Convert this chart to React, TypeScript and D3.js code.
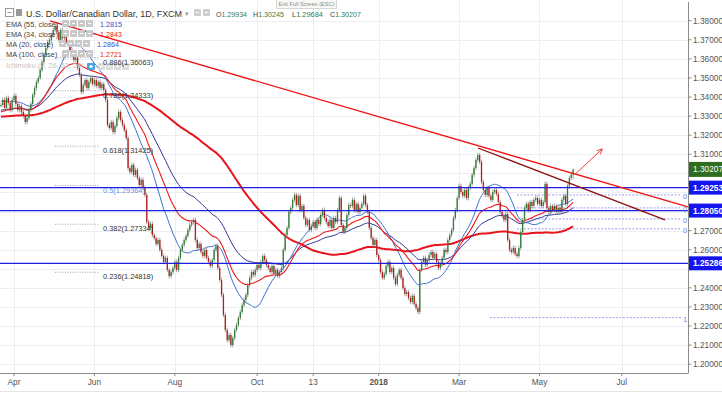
import React from "react";
import * as d3 from "d3";

// ---------- DATA ----------
const START_INDEX = -7; // bar index of first close (0 = first April 2017 session)
const closes = [
  1.3358, 1.3385, 1.3343, 1.3395, 1.3369, 1.3332, 1.3385,
  1.3406, 1.3364, 1.3332, 1.3353, 1.3322, 1.3301, 1.3269, 1.3290, 1.3332, 1.3364,
  1.3411, 1.3447, 1.3479, 1.3500, 1.3542, 1.3584, 1.3620, 1.3657, 1.3688, 1.3699,
  1.3725, 1.3751, 1.3772, 1.3741, 1.3699, 1.3751, 1.3709, 1.3725, 1.3688, 1.3673,
  1.3646, 1.3620, 1.3594, 1.3605, 1.3552, 1.3516, 1.3427, 1.3463, 1.3489, 1.3447,
  1.3479, 1.3500, 1.3468, 1.3489, 1.3458, 1.3479, 1.3447, 1.3468, 1.3437, 1.3385,
  1.3254, 1.3238, 1.3269, 1.3217, 1.3248, 1.3290, 1.3322, 1.3280, 1.3254, 1.3227,
  1.3185, 1.3028, 1.3007, 1.3044, 1.2992, 1.3018, 1.2976, 1.2939, 1.2966, 1.2924,
  1.2887, 1.2745, 1.2714, 1.2735, 1.2677, 1.2661, 1.2630, 1.2651, 1.2599, 1.2567,
  1.2536, 1.2557, 1.2494, 1.2462, 1.2483, 1.2504, 1.2536, 1.2494, 1.2557, 1.2599,
  1.2625, 1.2651, 1.2672, 1.2703, 1.2730, 1.2745, 1.2756, 1.2651, 1.2609, 1.2630,
  1.2588, 1.2567, 1.2599, 1.2557, 1.2536, 1.2515, 1.2546, 1.2599, 1.2620, 1.2504,
  1.2441, 1.2363, 1.2258, 1.2179, 1.2126, 1.2153, 1.2100, 1.2137, 1.2179, 1.2206,
  1.2242, 1.2274, 1.2310, 1.2337, 1.2363, 1.2415, 1.2452, 1.2483, 1.2468, 1.2494,
  1.2520, 1.2504, 1.2536, 1.2567, 1.2546, 1.2520, 1.2504, 1.2483, 1.2515, 1.2473,
  1.2494, 1.2462, 1.2483, 1.2504, 1.2599, 1.2677, 1.2714, 1.2798, 1.2819, 1.2861,
  1.2887, 1.2834, 1.2882, 1.2808, 1.2829, 1.2766, 1.2730, 1.2756, 1.2703, 1.2724,
  1.2745, 1.2714, 1.2756, 1.2735, 1.2782, 1.2808, 1.2766, 1.2745, 1.2724, 1.2756,
  1.2714, 1.2766, 1.2745, 1.2808, 1.2871, 1.2730, 1.2693, 1.2714, 1.2782, 1.2834,
  1.2829, 1.2861, 1.2808, 1.2840, 1.2798, 1.2819, 1.2840, 1.2882, 1.2834, 1.2798,
  1.2714, 1.2661, 1.2625, 1.2651, 1.2572, 1.2546, 1.2483, 1.2452, 1.2473, 1.2515,
  1.2536, 1.2483, 1.2504, 1.2452, 1.2420, 1.2468, 1.2494, 1.2452, 1.2399, 1.2368,
  1.2378, 1.2347, 1.2326, 1.2358, 1.2316, 1.2295, 1.2274, 1.2494, 1.2536, 1.2557,
  1.2520, 1.2546, 1.2572, 1.2588, 1.2557, 1.2578, 1.2536, 1.2504, 1.2525, 1.2557,
  1.2599, 1.2588, 1.2651, 1.2677, 1.2703, 1.2766, 1.2808, 1.2871, 1.2934, 1.2903,
  1.2882, 1.2913, 1.2871, 1.2924, 1.2945, 1.2992, 1.3028, 1.3070, 1.3096, 1.3060,
  1.2955, 1.2913, 1.2887, 1.2924, 1.2882, 1.2861, 1.2903, 1.2913, 1.2892, 1.2850,
  1.2798, 1.2777, 1.2756, 1.2787, 1.2651, 1.2599, 1.2588, 1.2609, 1.2578, 1.2567,
  1.2609, 1.2693, 1.2756, 1.2819, 1.2840, 1.2808, 1.2850, 1.2829, 1.2861, 1.2871,
  1.2840, 1.2861, 1.2829, 1.2850, 1.2945, 1.2819, 1.2798, 1.2829, 1.2808, 1.2829,
  1.2798, 1.2819, 1.2798, 1.2861, 1.2882, 1.2840, 1.2934, 1.2976, 1.2993, 1.30207,
];
const lastBarOHLC = [1.29934, 1.30245, 1.29684, 1.30207];
const ohlcLetters = ["O", "H", "L", "C"];

const xTickIndex = [0, 43, 86, 130, 160, 195, 238, 281, 325];
const xTickLabels = ["Apr", "Jun", "Aug", "Oct", "13", "2018", "Mar", "May", "Jul"];
const yTicks = d3.range(0, 19).map((k) => +(1.2 + k * 0.01).toFixed(2));

const levelPrices = [1.29253, 1.2805, 1.25286];
const lastPrice = 1.30207;

const fibLeftRatios = ["0.886", "0.786", "0.618", "0.5", "0.382", "0.236"];
const fibLeftPrices = [1.36063, 1.34333, 1.31425, 1.29364, 1.27334, 1.24818];
const fibRightPrices = [1.2887, 1.2819, 1.2761, 1.2709, 1.2244];
const fibRightLabels = ["0", "0", "0", "0", "1"];

const maNames = ["EMA (55, close)", "EMA (34, close)", "MA (20, close)", "MA (100, close)"];
const maValues = ["1.2815", "1.2843", "1.2864", "1.2721"];
const maPeriods = [55, 34, 20, 100];
const maKinds = ["ema", "ema", "sma", "sma"];
const maSeeds = [1.333, 1.332, 1.338, 1.3296];

// trendlines (bar index, price)
const trendMain = [[19.3, 1.3799], [360.4, 1.2824]];
const trendDark = [[248.1, 1.3133], [348.1, 1.2756]];
const arrowLine = [[300.2, 1.2997], [314.6, 1.3128]];

// ---------- STYLE ----------
const W = 722, H = 393;
const PLOT_R = 688.5, PLOT_B = 373;
const FONT = "'Liberation Sans', Arial, sans-serif";
const maColors = ["#2b3393", "#ee1b1b", "#3b6fd0", "#e8141c"];
const maWidths = [1, 1.1, 1, 2];
const legendValueColors = ["#3b4fc4", "#e82020", "#3b4fc4", "#e82020"];
const legendValueX = [100, 100, 97, 100];
const UP = "#2e7d32", DOWN = "#b71c1c", WICK_C = "#8e8e8e";
const WICK = 0.0012;

function sma(vals: number[], n: number, seed: number) {
  return vals.map((_, k) => {
    let s = 0;
    for (let j = 0; j < n; j++) {
      const idx = k - j;
      s += idx >= 0 ? vals[idx] : seed;
    }
    return s / n;
  });
}
function ema(vals: number[], n: number, seed: number) {
  const a = 2 / (n + 1);
  let prev = seed;
  return vals.map((v) => (prev = prev + a * (v - prev)));
}

export default function App() {
  const x = d3.scaleLinear().domain([-7.486, 360.8]).range([0, 688.7]);
  const y = d3.scaleLinear().domain([1.2, 1.38]).range([364.2, 20.7]);

  const bars = closes.map((c, k) => {
    const i = START_INDEX + k;
    const last = k === closes.length - 1;
    const o = last ? lastBarOHLC[0] : k === 0 ? c : closes[k - 1];
    const h = last ? lastBarOHLC[1] : Math.max(o, c) + WICK;
    const l = last ? lastBarOHLC[2] : Math.min(o, c) - WICK;
    return { i, o, h, l, c };
  });

  const maSeries = maPeriods.map((n, m) =>
    maKinds[m] === "ema" ? ema(closes, n, maSeeds[m]) : sma(closes, n, maSeeds[m])
  );
  const lineGen = d3
    .line<number>()
    .x((_, k) => x(START_INDEX + k))
    .y((v) => y(v))
    .curve(d3.curveMonotoneX);

  const seg = (p: number[][]) => ({ x1: x(p[0][0]), y1: y(p[0][1]), x2: x(p[1][0]), y2: y(p[1][1]) });
  const tm = seg(trendMain), td = seg(trendDark), ar = seg(arrowLine);
  const ang = Math.atan2(ar.y2 - ar.y1, ar.x2 - ar.x1);
  const ah = 6;
  const arrowHead = `M${ar.x2 - ah * Math.cos(ang - 0.45)},${ar.y2 - ah * Math.sin(ang - 0.45)}L${ar.x2},${ar.y2}L${ar.x2 - ah * Math.cos(ang + 0.45)},${ar.y2 - ah * Math.sin(ang + 0.45)}`;

  const bodyW = 1.3;
  const legendBase = [26.5, 36.5, 46.5, 56.5];
  const boxedPrices = [lastPrice, ...levelPrices];
  const visibleTicks = yTicks.filter((t) => boxedPrices.every((p) => Math.abs(y(p) - y(t)) > 10.5));

  const icon = (ix: number, iy: number, key: string, fill = "#c9c9c9") => (
    <g key={key}>
      <rect x={ix} y={iy} width={7} height={7} fill={fill} rx={0.8} />
      <rect x={ix + 2} y={iy + 3} width={3} height={1} fill="#fff" />
    </g>
  );

  return (
    <svg width={W} height={H} style={{ position: "absolute", left: 0, top: 0, background: "#fff" }} fontFamily={FONT}>
      <defs>
        <clipPath id="plot">
          <rect x={0} y={0} width={PLOT_R} height={PLOT_B} />
        </clipPath>
      </defs>
      <rect x={0} y={0} width={W} height={H} fill="#fff" />

      {/* grid */}
      <g stroke="#eceef1" strokeWidth={1}>
        {yTicks.map((t) => (
          <line key={"gy" + t} x1={0} x2={PLOT_R} y1={Math.round(y(t)) + 0.5} y2={Math.round(y(t)) + 0.5} />
        ))}
        {xTickIndex.map((t) => (
          <line key={"gx" + t} x1={Math.round(x(t)) + 0.5} x2={Math.round(x(t)) + 0.5} y1={0} y2={PLOT_B} />
        ))}
      </g>

      <g clipPath="url(#plot)">
        {/* left fib dotted levels */}
        {fibLeftPrices.map((p, k) => (
          <line key={"fl" + k} x1={x(21.9)} x2={x(46)} y1={y(p)} y2={y(p)} stroke="#8a8a8a" strokeWidth={0.8} strokeDasharray="1,1.5" />
        ))}
        {/* right fib dotted levels */}
        {fibRightPrices.map((p, k) => (
          <line key={"fr" + k} x1={x(k === 4 ? 254.5 : 269)} x2={x(356.7)} y1={y(p)} y2={y(p)} stroke="#8e8ee8" strokeWidth={0.9} strokeDasharray="2,1.5" />
        ))}

        {/* moving averages (MA100 under) */}
        {[3, 0, 2, 1].map((m) => (
          <path key={"ma" + m} d={lineGen(maSeries[m]) || ""} fill="none" stroke={maColors[m]} strokeWidth={maWidths[m]} />
        ))}

        {/* candles */}
        {bars.map((b) => {
          const cx = x(b.i);
          const up = b.c >= b.o;
          const top = y(Math.max(b.o, b.c));
          const bot = y(Math.min(b.o, b.c));
          return (
            <g key={"b" + b.i}>
              <line x1={cx} x2={cx} y1={y(b.h)} y2={y(b.l)} stroke={WICK_C} strokeWidth={0.8} />
              <rect x={cx - bodyW / 2} y={top} width={bodyW} height={Math.max(0.8, bot - top)} fill={up ? UP : DOWN} />
            </g>
          );
        })}

        {/* horizontal support / resistance */}
        {levelPrices.map((p) => (
          <line key={"lv" + p} x1={0} x2={PLOT_R} y1={y(p)} y2={y(p)} stroke="#1d1de0" strokeWidth={1.4} />
        ))}

        {/* trendlines */}
        <line {...tm} stroke="#f01414" strokeWidth={1.3} />
        <line {...td} stroke="#8c1010" strokeWidth={1.3} />
        <line {...ar} stroke="#f03030" strokeWidth={0.9} />
        <path d={arrowHead} fill="none" stroke="#f03030" strokeWidth={0.9} />
      </g>

      {/* fib labels right */}
      {fibRightPrices.map((p, k) => (
        <text key={"frt" + k} x={683} y={y(p) + 4} fontSize={7.5} fill="#6f84e6">
          {fibRightLabels[k]}
        </text>
      ))}

      {/* axes */}
      <line x1={PLOT_R} x2={PLOT_R} y1={2} y2={PLOT_B} stroke="#8a8a8a" strokeWidth={1} />
      <line x1={0} x2={PLOT_R} y1={PLOT_B + 0.5} y2={PLOT_B + 0.5} stroke="#8a8a8a" strokeWidth={1} />
      {yTicks.map((t) => (
        <line key={"ytk" + t} x1={PLOT_R} x2={PLOT_R + 3} y1={y(t)} y2={y(t)} stroke="#8a8a8a" />
      ))}
      {visibleTicks.map((t) => (
        <text key={"yt" + t} x={693} y={y(t) + 3} fontSize={8.3} fill="#555">
          {t.toFixed(5)}
        </text>
      ))}
      {xTickIndex.map((t, k) => (
        <g key={"xt" + t}>
          <line x1={x(t)} x2={x(t)} y1={PLOT_B} y2={PLOT_B + 3} stroke="#8a8a8a" />
          <text x={x(t)} y={385} fontSize={8.3} fill="#555" textAnchor="middle" fontWeight={xTickLabels[k] === "2018" ? "bold" : "normal"}>
            {xTickLabels[k]}
          </text>
        </g>
      ))}
      <line x1={0} x2={W} y1={391.5} y2={391.5} stroke="#e4e4e4" />

      {/* price labels on axis */}
      <rect x={PLOT_R + 0.5} y={y(lastPrice) - 7.5} width={W - PLOT_R} height={15} fill="#2f6e1f" />
      <text x={693} y={y(lastPrice) + 3} fontSize={8.3} fill="#fff">{lastPrice.toFixed(5)}</text>
      {levelPrices.map((p) => (
        <g key={"lb" + p}>
          <rect x={PLOT_R + 0.5} y={y(p) - 7} width={W - PLOT_R} height={14} fill="#1414f0" />
          <text x={693} y={y(p) + 3} fontSize={8.3} fill="#fff" fontWeight="bold">{p.toFixed(5)}</text>
        </g>
      ))}

      {/* header */}
      <rect x={5.5} y={8.5} width={8} height={8} fill="#fff" stroke="#999" />
      <line x1={7.5} x2={11.5} y1={12.5} y2={12.5} stroke="#999" />
      <rect x={16} y={9} width={6} height={7} fill="#9a9a9a" />
      <text x={26} y={16.5} fontSize={9} fill="#333" textLength={156} lengthAdjust="spacingAndGlyphs">
        U.S. Dollar/Canadian Dollar, 1D, FXCM
      </text>
      <text x={185} y={16} fontSize={7} fill="#999">▾</text>
      {icon(194, 9, "h1", "#cfcfcf")}
      {icon(203, 9, "h2", "#cfcfcf")}
      {lastBarOHLC.map((v, k) => (
        <text key={"ohlc" + k} x={[216, 253, 292, 330][k]} y={16.5} fontSize={8} textLength={31} lengthAdjust="spacingAndGlyphs">
          <tspan fill="#444">{ohlcLetters[k]}</tspan>
          <tspan fill="#3d7a4a">{v.toFixed(5)}</tspan>
        </text>
      ))}
      {/* tooltip */}
      <rect x={276.5} y={-2} width={60} height={10.5} fill="#f8f8f8" stroke="#d6d6d6" />
      <text x={306.5} y={6} fontSize={5.6} fill="#8a8a8a" textAnchor="middle">Exit Full Screen (ESC)</text>

      {/* indicator legend */}
      {maNames.map((name, k) => (
        <g key={"lg" + k}>
          <text x={6} y={legendBase[k]} fontSize={7.4} fill="#444">{name}</text>
          {[0, 1, 2, 3].map((j) => icon(legendValueX[k] - 38 + j * 8, legendBase[k] - 6.5, "li" + k + j))}
          <text x={legendValueX[k]} y={legendBase[k]} fontSize={7.2} fill={legendValueColors[k]}>{maValues[k]}</text>
        </g>
      ))}
      <text x={6} y={68} fontSize={7.4} fill="#c4c4c4">Ichimoku (9, 26, 52, 26)</text>
      <rect x={87} y={63} width={8} height={7} fill="#4aa3e0" rx={1} />
      <circle cx={91} cy={66.5} r={1.6} fill="#fff" />
      {[0, 1, 2, 3].map((j) => icon(98 + j * 8, 63, "ic" + j, "#dcdcdc"))}

      {/* fib labels left (on top) */}
      {fibLeftPrices.map((p, k) => (
        <text key={"flt" + k} x={x(47.6)} y={y(p) + 7} fontSize={7.4} fill={fibLeftRatios[k] === "0.5" ? "#6b8ee6" : "#333"}>
          {fibLeftRatios[k]}({p.toFixed(5)})
        </text>
      ))}
    </svg>
  );
}
